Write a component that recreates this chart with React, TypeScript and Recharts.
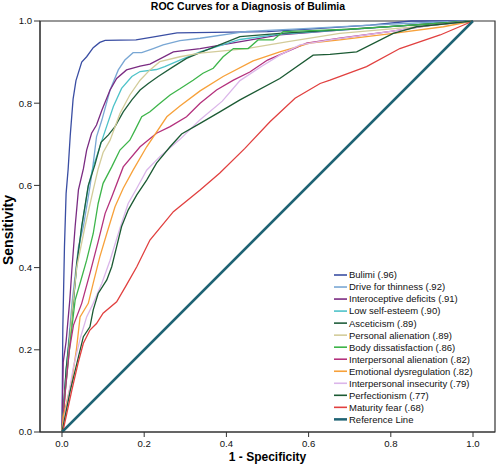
import React from 'react';
import { LineChart, Line, XAxis, YAxis, ReferenceArea, Legend } from 'recharts';

type Pt = [number, number];

const xTicks = [0, 0.2, 0.4, 0.6, 0.8, 1.0];
const yTicks = [0, 0.2, 0.4, 0.6, 0.8, 1.0];

const bulimi: Pt[] = [[0,0],[0.002,0.25],[0.006,0.45],[0.01,0.58],[0.015,0.64],[0.02,0.72],[0.027,0.81],[0.034,0.855],[0.048,0.9],[0.06,0.913],[0.076,0.935],[0.092,0.948],[0.105,0.953],[0.18,0.954],[0.22,0.961],[0.28,0.971],[0.5,0.974],[0.6,0.98],[0.75,0.99],[0.85,1.0],[1,1]];
const driveForThinness: Pt[] = [[0,0],[0.01,0.15],[0.025,0.32],[0.04,0.45],[0.052,0.5],[0.068,0.597],[0.075,0.645],[0.084,0.718],[0.097,0.759],[0.117,0.832],[0.137,0.881],[0.153,0.905],[0.173,0.923],[0.194,0.923],[0.222,0.933],[0.246,0.942],[0.287,0.952],[0.336,0.958],[0.45,0.975],[0.6,0.982],[0.75,0.99],[0.9,0.997],[1,1]];
const interoceptive: Pt[] = [[0,0],[0.003,0.17],[0.01,0.22],[0.019,0.321],[0.024,0.394],[0.032,0.5],[0.04,0.589],[0.052,0.64],[0.06,0.686],[0.072,0.727],[0.084,0.747],[0.097,0.783],[0.117,0.832],[0.133,0.86],[0.157,0.881],[0.19,0.89],[0.214,0.895],[0.271,0.925],[0.336,0.933],[0.53,0.966],[0.676,0.978],[0.85,0.99],[1,1]];
const lowSelfEsteem: Pt[] = [[0,0],[0.01,0.15],[0.028,0.321],[0.036,0.402],[0.048,0.5],[0.064,0.597],[0.076,0.645],[0.1,0.718],[0.125,0.792],[0.145,0.836],[0.17,0.865],[0.19,0.877],[0.23,0.882],[0.25,0.889],[0.287,0.905],[0.336,0.925],[0.433,0.955],[0.53,0.968],[0.676,0.978],[0.85,0.99],[1,1]];
const asceticism: Pt[] = [[0,0],[0.01,0.15],[0.028,0.321],[0.036,0.41],[0.048,0.5],[0.064,0.6],[0.08,0.65],[0.095,0.705],[0.113,0.723],[0.129,0.743],[0.149,0.779],[0.17,0.808],[0.19,0.832],[0.21,0.848],[0.234,0.865],[0.271,0.889],[0.303,0.909],[0.336,0.923],[0.433,0.962],[0.53,0.97],[0.7,0.98],[0.85,0.99],[1,1]];
const personalAlienation: Pt[] = [[0,0],[0.01,0.12],[0.025,0.3],[0.036,0.402],[0.056,0.5],[0.076,0.589],[0.088,0.64],[0.1,0.68],[0.117,0.71],[0.141,0.775],[0.165,0.82],[0.19,0.856],[0.214,0.881],[0.238,0.901],[0.287,0.913],[0.336,0.922],[0.449,0.933],[0.55,0.95],[0.676,0.97],[0.85,0.985],[1,1]];
const bodyDissatisfaction: Pt[] = [[0,0],[0.008,0.1],[0.02,0.22],[0.032,0.321],[0.044,0.362],[0.06,0.418],[0.076,0.483],[0.088,0.556],[0.1,0.605],[0.121,0.645],[0.141,0.686],[0.165,0.71],[0.178,0.735],[0.194,0.767],[0.214,0.779],[0.234,0.796],[0.263,0.82],[0.287,0.835],[0.319,0.856],[0.343,0.873],[0.368,0.885],[0.392,0.913],[0.417,0.933],[0.453,0.933],[0.477,0.954],[0.514,0.954],[0.538,0.974],[0.7,0.98],[0.85,0.99],[1,1]];
const interpersonalAlienation: Pt[] = [[0,0],[0.008,0.1],[0.018,0.2],[0.028,0.26],[0.048,0.313],[0.068,0.386],[0.088,0.463],[0.105,0.532],[0.121,0.572],[0.149,0.645],[0.19,0.694],[0.23,0.727],[0.263,0.743],[0.303,0.767],[0.336,0.8],[0.376,0.832],[0.417,0.856],[0.457,0.876],[0.5,0.905],[0.595,0.946],[0.676,0.958],[0.8,0.975],[0.9,0.99],[1,1]];
const emotionalDysregulation: Pt[] = [[0,0],[0.003,0.037],[0.024,0.127],[0.035,0.2],[0.044,0.28],[0.064,0.313],[0.076,0.362],[0.092,0.426],[0.109,0.483],[0.129,0.548],[0.149,0.593],[0.173,0.637],[0.206,0.694],[0.255,0.767],[0.287,0.793],[0.336,0.83],[0.392,0.865],[0.465,0.903],[0.53,0.925],[0.603,0.946],[0.676,0.954],[0.806,0.97],[0.928,0.986],[1,1]];
const interpersonalInsecurity: Pt[] = [[0,0],[0.028,0.159],[0.045,0.23],[0.06,0.28],[0.076,0.313],[0.097,0.362],[0.117,0.418],[0.141,0.496],[0.161,0.556],[0.182,0.593],[0.206,0.637],[0.238,0.67],[0.287,0.712],[0.336,0.76],[0.39,0.805],[0.433,0.855],[0.486,0.89],[0.53,0.917],[0.579,0.942],[0.652,0.954],[0.8,0.975],[0.9,0.99],[1,1]];
const perfectionism: Pt[] = [[0,0],[0.02,0.1],[0.04,0.183],[0.052,0.232],[0.068,0.256],[0.076,0.297],[0.088,0.337],[0.109,0.37],[0.121,0.402],[0.133,0.451],[0.145,0.5],[0.161,0.54],[0.182,0.577],[0.206,0.613],[0.23,0.654],[0.263,0.694],[0.291,0.725],[0.336,0.751],[0.384,0.779],[0.433,0.808],[0.53,0.86],[0.611,0.917],[0.652,0.919],[0.717,0.925],[0.806,0.97],[0.863,0.986],[1,1]];
const maturityFear: Pt[] = [[0,0],[0.003,0.005],[0.024,0.102],[0.04,0.171],[0.052,0.216],[0.068,0.248],[0.084,0.264],[0.1,0.289],[0.133,0.317],[0.157,0.358],[0.182,0.402],[0.214,0.467],[0.271,0.536],[0.336,0.589],[0.384,0.63],[0.445,0.69],[0.506,0.755],[0.567,0.812],[0.628,0.848],[0.652,0.856],[0.741,0.889],[0.822,0.933],[0.92,0.966],[1,1]];
const referenceLine: Pt[] = [[0,0],[1,1]];

const seriesNames = [
  'Bulimi (.96)',
  'Drive for thinness (.92)',
  'Interoceptive deficits (.91)',
  'Low self-esteem (.90)',
  'Asceticism (.89)',
  'Personal alienation (.89)',
  'Body dissatisfaction (.86)',
  'Interpersonal alienation (.82)',
  'Emotional dysregulation (.82)',
  'Interpersonal insecurity (.79)',
  'Perfectionism (.77)',
  'Maturity fear (.68)',
  'Reference Line',
];
const seriesValues: Pt[][] = [
  bulimi, driveForThinness, interoceptive, lowSelfEsteem, asceticism, personalAlienation,
  bodyDissatisfaction, interpersonalAlienation, emotionalDysregulation, interpersonalInsecurity,
  perfectionism, maturityFear, referenceLine,
];
const seriesColors = [
  '#3a4ea3', '#79a7d4', '#7a2b82', '#4ec3c9', '#1f5e3b', '#d3cc9a',
  '#3db54a', '#b4317d', '#f7a13a', '#dbb6ea', '#1b5a33', '#e1403f', '#1f6374',
];

const FONT = 'Arial, "Liberation Sans", Helvetica, sans-serif';
const X_DOMAIN: [number, number] = [-0.0535, 1.0535];

const LegendBox = () => (
  <svg width={162} height={158} style={{ display: 'block', overflow: 'visible' }}>
    {seriesNames.map((name, i) => {
      const y = 6 + i * 12.03;
      const isRef = i === seriesNames.length - 1;
      return (
        <g key={name}>
          <line x1={0} x2={13} y1={y} y2={y} stroke={seriesColors[i]} strokeWidth={isRef ? 2.5 : 1.6} />
          <text x={15} y={y + 3.4} fontSize={9.5} fontFamily={FONT} fill="#111">{name}</text>
        </g>
      );
    })}
  </svg>
);

export default function App() {
  return (
    <div style={{ position: 'absolute', left: 0, top: 0, width: 496, height: 464, background: '#fff', fontFamily: FONT }}>
      <div style={{ position: 'absolute', left: 0, top: 0, width: 496, textAlign: 'center', fontSize: 10.5, fontWeight: 'bold', lineHeight: '12px', color: '#000' }}>
        ROC Curves for a Diagnosis of Bulimia
      </div>
      <LineChart width={496} height={464} margin={{ top: 21, right: 1, bottom: 0, left: 0 }}>
        <XAxis
          type="number"
          dataKey="x"
          domain={X_DOMAIN}
          allowDataOverflow
          ticks={xTicks}
          tickFormatter={(v: number) => v.toFixed(1)}
          height={32}
          tickSize={5}
          tickMargin={3}
          stroke="#333"
          tick={{ fill: '#111', fontSize: 9.6, fontFamily: FONT }}
          label={{
            content: () => (
              <text x={267.5} y={461} textAnchor="middle" fontSize={12} fontWeight="bold" fontFamily={FONT} fill="#000">1 - Specificity</text>
            ),
          }}
        />
        <YAxis
          type="number"
          domain={[0, 1]}
          ticks={yTicks}
          tickFormatter={(v: number) => v.toFixed(1)}
          width={40}
          tickSize={6}
          tickMargin={2}
          stroke="#333"
          tick={{ fill: '#111', fontSize: 9.6, fontFamily: FONT }}
          label={{
            content: () => (
              <text x={12.5} y={230} transform="rotate(-90 12.5 230)" textAnchor="middle" fontSize={14} fontWeight="bold" fontFamily={FONT} fill="#000">Sensitivity</text>
            ),
          }}
        />
        <ReferenceArea x1={X_DOMAIN[0]} x2={X_DOMAIN[1]} y1={0} y2={1} fill="none" stroke="#333" strokeWidth={1.2} ifOverflow="visible" />
        {seriesValues.map((vals, i) => (
          <Line
            key={seriesNames[i]}
            name={seriesNames[i]}
            data={vals.map(([x, y]) => ({ x, y }))}
            dataKey="y"
            type="linear"
            stroke={seriesColors[i]}
            strokeWidth={i === seriesValues.length - 1 ? 2.5 : 1.3}
            dot={false}
            activeDot={false}
            isAnimationActive={false}
          />
        ))}
        <Legend
          layout="vertical"
          align="center"
          verticalAlign="middle"
          content={() => <LegendBox />}
          wrapperStyle={{ position: 'absolute', left: 334, top: 269, width: 162, height: 158, margin: 0, padding: 0 }}
        />
      </LineChart>
    </div>
  );
}
